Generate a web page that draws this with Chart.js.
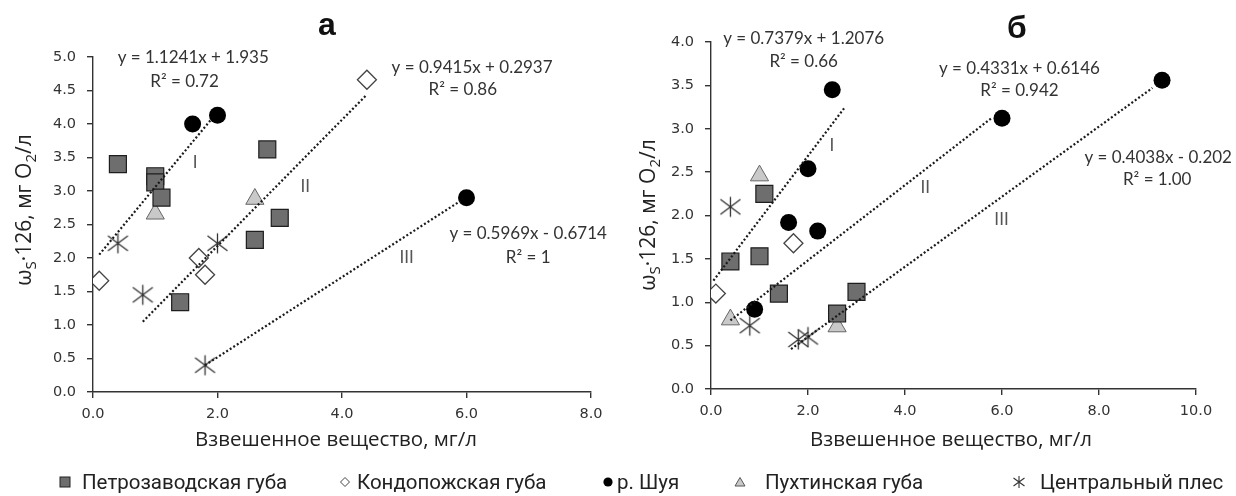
<!DOCTYPE html>
<html>
<head>
<meta charset="utf-8">
<script src="https://cdn.jsdelivr.net/npm/chart.js@4.4.1/dist/chart.umd.min.js"></script>
<style>
  body { margin: 0; background: #fff; }
  #wrap { position: relative; width: 1236px; height: 496px; overflow: hidden; }
  .panel { position: absolute; top: 0; height: 496px; }
  .lg { position: absolute; top: 470px; font: 20.5px Roboto, "Open Sans", sans-serif; color: #222; line-height: 25px; white-space: nowrap; }
  .mk { position: absolute; top: 475px; }
</style>
</head>
<body>
<div id="wrap">
  <div class="panel" style="left:0;width:620px"><canvas id="chartA" width="620" height="496"></canvas></div>
  <div class="panel" style="left:620px;width:616px"><canvas id="chartB" width="616" height="496"></canvas></div>
  <div id="legend"></div>
</div>
<script>
const seriesNames = ['Петрозаводская губа', 'Кондопожская губа', 'р. Шуя', 'Пухтинская губа', 'Центральный плес'];

// panel а
const aPetroX = [0.4, 1.0, 1.0, 1.1, 2.8, 2.6, 3.0, 1.4];
const aPetroY = [3.4, 3.22, 3.13, 2.9, 3.62, 2.27, 2.6, 1.34];
const aKondX = [0.1, 1.7, 1.8, 4.4];
const aKondY = [1.66, 2.0, 1.75, 4.66];
const aShuyaX = [1.6, 2.0, 6.0];
const aShuyaY = [4.0, 4.13, 2.9];
const aPukhX = [1.0, 2.6];
const aPukhY = [2.66, 2.88];
const aCentrX = [0.4, 0.8, 2.0, 1.8];
const aCentrY = [2.22, 1.45, 2.22, 0.4];
const aTrendX = [[0.1, 1.9], [0.8, 4.4], [1.8, 5.9]];
const aTrendY = [[2.05, 4.07], [1.05, 4.44], [0.40, 2.85]];
const aEquations = ['y = 1.1241x + 1.935', 'y = 0.9415x + 0.2937', 'y = 0.5969x - 0.6714'];
const aR2 = ['R² = 0.72', 'R² = 0.86', 'R² = 1'];

// panel б
const bPetroX = [0.4, 1.0, 1.1, 1.4, 2.6, 3.0];
const bPetroY = [1.47, 1.53, 2.25, 1.1, 0.87, 1.12];
const bKondX = [0.1, 1.7];
const bKondY = [1.1, 1.68];
const bShuyaX = [0.9, 1.6, 2.0, 2.2, 2.5, 6.0, 9.3];
const bShuyaY = [0.92, 1.92, 2.54, 1.82, 3.45, 3.12, 3.56];
const bPukhX = [0.4, 1.0, 2.6];
const bPukhY = [0.8, 2.46, 0.72];
const bCentrX = [0.4, 0.8, 1.8, 2.0];
const bCentrY = [2.1, 0.73, 0.57, 0.6];
const bTrendX = [[0.05, 2.75], [0.4, 5.8], [1.65, 9.1]];
const bTrendY = [[1.25, 3.24], [0.79, 3.13], [0.46, 3.47]];
const bEquations = ['y = 0.7379x + 1.2076', 'y = 0.4331x + 0.6146', 'y = 0.4038x - 0.202'];
const bR2 = ['R² = 0.66', 'R² = 0.942', 'R² = 1.00'];

const trendNames = ['I', 'II', 'III'];
const xTitle = 'Взвешенное вещество, мг/л';
const yTitleParts = [['ω', 0], ['S', 1], ['·126, мг O', 0], ['2', 1], ['/л', 0]];

// label placement (data coordinates), kept apart from the values
const aEqPos = [[1.61, 4.99], [6.09, 4.85], [6.99, 2.37]];
const aR2Pos = [[1.47, 4.64], [5.94, 4.52], [6.99, 2.01]];
const aNumPos = [[1.64, 3.42], [3.41, 3.06], [5.04, 2.0]];
const bEqPos = [[1.91, 4.04], [6.36, 3.70], [9.22, 2.67]];
const bR2Pos = [[1.91, 3.77], [6.36, 3.44], [9.2, 2.41]];
const bNumPos = [[2.49, 2.81], [4.42, 2.32], [5.99, 1.95]];

function pts(xs, ys) {
  return xs.map((x, i) => ({ x, y: ys[i] }));
}

function starMarker() {
  const c = document.createElement('canvas');
  c.width = 23; c.height = 23;
  const g = c.getContext('2d');
  g.strokeStyle = '#333';
  g.lineWidth = 1.3;
  g.beginPath();
  g.moveTo(11.5, 1.5); g.lineTo(11.5, 21.5);
  g.moveTo(1.5, 4); g.lineTo(21.5, 19);
  g.moveTo(21.5, 4); g.lineTo(1.5, 19);
  g.stroke();
  return c;
}
const star = starMarker();

function pointSets(petro, kond, shuya, pukh, centr) {
  return [
    { label: seriesNames[0], data: petro, pointStyle: 'rect', pointRadius: 12, backgroundColor: '#6e6e6e', borderColor: '#1e1e1e', borderWidth: 1.2, order: 1 },
    { label: seriesNames[1], data: kond, pointStyle: 'rectRot', pointRadius: 9.5, backgroundColor: '#fff', borderColor: '#444', borderWidth: 1.3, order: 1 },
    { label: seriesNames[2], data: shuya, pointStyle: 'circle', pointRadius: 8.5, backgroundColor: '#000', borderColor: '#000', borderWidth: 0, order: 1 },
    { label: seriesNames[3], data: pukh, pointStyle: 'triangle', pointRadius: 10.5, backgroundColor: '#c9c9c9', borderColor: '#666', borderWidth: 1, order: 1 },
    { label: seriesNames[4], data: centr, pointStyle: star, pointRadius: 11, backgroundColor: '#333', borderColor: '#333', order: 1 },
  ];
}

function trendSets(txs, tys) {
  return txs.map((xs, i) => ({
    type: 'line',
    label: trendNames[i],
    data: pts(xs, tys[i]),
    borderColor: '#1a1a1a',
    borderWidth: 2.2,
    borderDash: [2, 2.2],
    pointRadius: 0,
    fill: false,
    order: 0,
  }));
}

const notesPlugin = {
  id: 'notes',
  afterDatasetsDraw(chart, args, opts) {
    const { ctx } = chart;
    const xs = chart.scales.x;
    const ys = chart.scales.y;
    ctx.save();
    ctx.textAlign = 'center';
    ctx.textBaseline = 'middle';
    ctx.fillStyle = '#333';
    ctx.font = '17px Lato, "Open Sans", sans-serif';
    opts.eq.forEach((t, i) => {
      ctx.fillText(t, xs.getPixelForValue(opts.eqPos[i][0]), ys.getPixelForValue(opts.eqPos[i][1]));
      ctx.fillText(opts.r2[i], xs.getPixelForValue(opts.r2Pos[i][0]), ys.getPixelForValue(opts.r2Pos[i][1]));
    });
    ctx.fillStyle = '#555';
    ctx.font = '17px Lato, "Open Sans", sans-serif';
    trendNames.forEach((t, i) => {
      ctx.fillText(t, xs.getPixelForValue(opts.numPos[i][0]), ys.getPixelForValue(opts.numPos[i][1]));
    });

    // panel letter
    ctx.fillStyle = '#111';
    ctx.font = 'bold 32px "Liberation Sans", Arial, sans-serif';
    ctx.textBaseline = 'alphabetic';
    ctx.fillText(opts.letter, opts.letterX, opts.letterY);

    // x axis title
    ctx.fillStyle = '#222';
    ctx.font = '20.5px "Open Sans", sans-serif';
    ctx.textBaseline = 'middle';
    ctx.fillText(xTitle, opts.xTitleX, 440);

    // y axis title with subscripts
    ctx.translate(opts.yTitleX, opts.yTitleY);
    ctx.rotate(-Math.PI / 2);
    ctx.textAlign = 'left';
    ctx.textBaseline = 'alphabetic';
    const big = '21px "Open Sans", sans-serif';
    const small = '15px "Open Sans", sans-serif';
    let total = 0;
    yTitleParts.forEach(([t, sub]) => { ctx.font = sub ? small : big; total += ctx.measureText(t).width; });
    let cx = -total / 2;
    yTitleParts.forEach(([t, sub]) => {
      ctx.font = sub ? small : big;
      ctx.fillText(t, cx, sub ? 12 : 7);
      cx += ctx.measureText(t).width;
    });
    ctx.restore();
  },
};

function makeChart(id, datasets, xMax, yMax, fit, notes) {
  const tickFont = { family: '"DejaVu Sans", Verdana, sans-serif', size: 14.5 };
  const axisGrid = { display: true, drawOnChartArea: false, drawTicks: true, tickLength: 6, color: '#333', lineWidth: 1.4 };
  return new Chart(document.getElementById(id), {
    type: 'scatter',
    data: { datasets },
    options: {
      responsive: false,
      animation: false,
      layout: { padding: fit.padding },
      plugins: {
        legend: { display: false },
        tooltip: { enabled: false },
        notes,
      },
      scales: {
        x: {
          type: 'linear', min: 0, max: xMax,
          grid: axisGrid,
          border: { display: true, color: '#333', width: 1.4 },
          ticks: { stepSize: 2, font: tickFont, color: '#333', padding: 8, maxRotation: 0, callback: v => v.toFixed(1) },
          afterFit: s => { s.height = 40; },
        },
        y: {
          type: 'linear', min: 0, max: yMax,
          grid: axisGrid,
          border: { display: true, color: '#333', width: 1.4 },
          ticks: { stepSize: 0.5, font: tickFont, color: '#333', padding: 11, callback: v => v.toFixed(1) },
          afterFit: s => { s.width = fit.yWidth; },
        },
      },
    },
    plugins: [notesPlugin],
  });
}

makeChart('chartA',
  trendSets(aTrendX, aTrendY).concat(pointSets(pts(aPetroX, aPetroY), pts(aKondX, aKondY), pts(aShuyaX, aShuyaY), pts(aPukhX, aPukhY), pts(aCentrX, aCentrY))),
  8, 5,
  { padding: { left: 0, top: 57, right: 29, bottom: 64 }, yWidth: 93 },
  { eq: aEquations, r2: aR2, eqPos: aEqPos, r2Pos: aR2Pos, numPos: aNumPos, letter: 'а', letterX: 327, letterY: 35, xTitleX: 336, yTitleX: 24, yTitleY: 210 });

makeChart('chartB',
  trendSets(bTrendX, bTrendY).concat(pointSets(pts(bPetroX, bPetroY), pts(bKondX, bKondY), pts(bShuyaX, bShuyaY), pts(bPukhX, bPukhY), pts(bCentrX, bCentrY))),
  10, 4,
  { padding: { left: 0, top: 42, right: 40, bottom: 67 }, yWidth: 91 },
  { eq: bEquations, r2: bR2, eqPos: bEqPos, r2Pos: bR2Pos, numPos: bNumPos, letter: 'б', letterX: 397, letterY: 38, xTitleX: 331, yTitleX: 28, yTitleY: 215 });

// legend
const legendMarkX = [65, 345, 608, 740, 1019];
const legendTextX = [82, 357, 617, 765, 1040];
const legendSvg = [
  '<svg width="14" height="14"><rect x="2" y="2" width="10" height="10" fill="#6e6e6e" stroke="#222" stroke-width="1"/></svg>',
  '<svg width="14" height="14"><polygon points="7,2.5 11.5,7 7,11.5 2.5,7" fill="#fff" stroke="#444" stroke-width="1"/></svg>',
  '<svg width="14" height="14"><circle cx="7" cy="7" r="4.6" fill="#000"/></svg>',
  '<svg width="14" height="14"><polygon points="7,2.5 12,11 2,11" fill="#c9c9c9" stroke="#555" stroke-width="1"/></svg>',
  '<svg width="14" height="14"><path d="M7 1V13M1.5 3L12.5 11M12.5 3L1.5 11" stroke="#333" stroke-width="1.1" fill="none"/></svg>',
];
const legend = document.getElementById('legend');
seriesNames.forEach((name, i) => {
  const m = document.createElement('div');
  m.className = 'mk';
  m.style.left = (legendMarkX[i] - 7) + 'px';
  m.innerHTML = legendSvg[i];
  legend.appendChild(m);
  const t = document.createElement('div');
  t.className = 'lg';
  t.style.left = legendTextX[i] + 'px';
  t.textContent = name;
  legend.appendChild(t);
});
</script>
</body>
</html>
